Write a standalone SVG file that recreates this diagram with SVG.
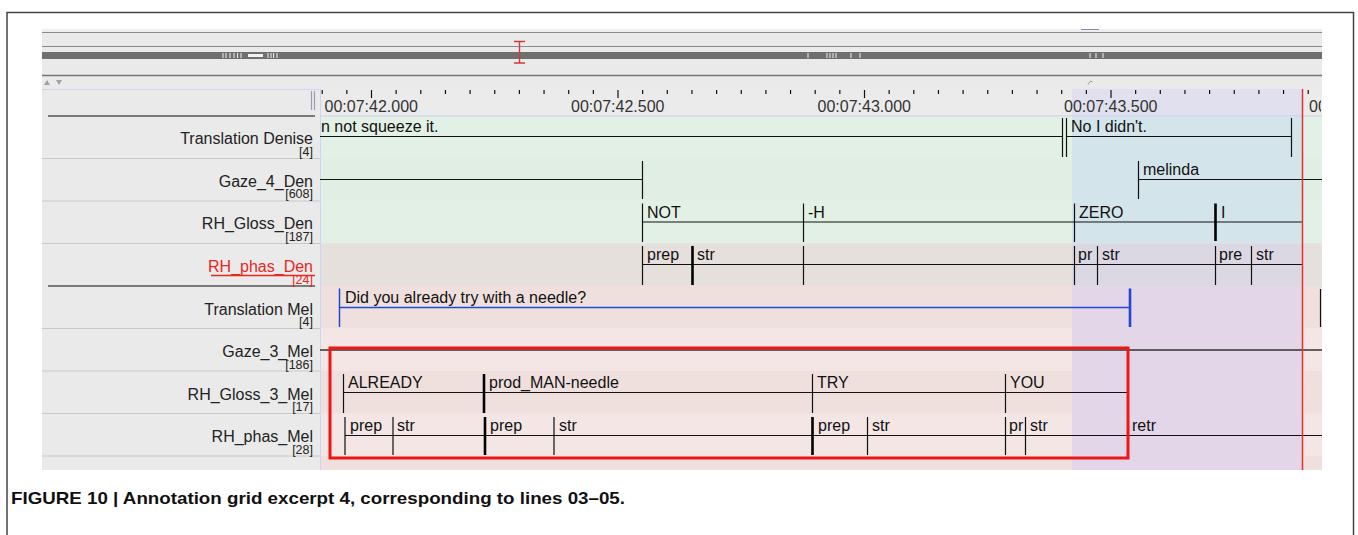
<svg xmlns="http://www.w3.org/2000/svg" width="1358" height="535" viewBox="0 0 1358 535">
<defs>
<style>
text{font-family:"Liberation Sans",Arial,Helvetica,sans-serif}
.lbl{font-size:16px;fill:#222;text-anchor:end}
.cnt{font-size:12.5px;fill:#222;text-anchor:end}
.ann{font-size:16px;fill:#111}
.ruler{font-size:16px;fill:#333}
.tk{stroke:#111;stroke-width:1.2;fill:none}
.tkb{stroke:#000;stroke-width:2.6;fill:none}
.blue{stroke:#2346d8;fill:none}
.sep{stroke:#c9c9c9;stroke-width:1.2}
.sepd{stroke:#555;stroke-width:1.6}
</style>
<clipPath id="clipRight"><rect x="320" y="85" width="1001" height="390"/></clipPath>
</defs>
<rect x="0" y="0" width="1358" height="535" fill="#fff"/>
<path d="M7 535V12.5H1353.5V535" fill="none" stroke="#444" stroke-width="1.5"/>

<g id="app-top">
<rect x="42" y="29" width="1280" height="441" fill="#eaeaea"/>
<rect x="42" y="29" width="1280" height="3" fill="#eeeeee"/>
<line x1="42" y1="32.5" x2="1322" y2="32.5" stroke="#8a8a8a" stroke-width="1"/>
<line x1="42" y1="46.5" x2="1322" y2="46.5" stroke="#8a8a8a" stroke-width="1"/>
<rect x="42" y="52" width="1280" height="7" fill="#6f6f6f"/>
<path d="M223 53v5M226 53v5M230 53v5M234 53v5M237.5 53v5M241 53v5M268 53v5M271 53v5M273.6 53v5M277 53v5M808 53v5M827 53v5M830 53v5M833 53v5M836 53v5M851 53v5M860 53v5M1090 53v5M1096 53v5M1103 53v5" stroke="#f2f2f2" stroke-width="1"/>
<rect x="248" y="54" width="15" height="3" fill="#f2f2f2"/>
<line x1="42" y1="75.5" x2="1322" y2="75.5" stroke="#777" stroke-width="1.6"/>
<line x1="1081" y1="29.5" x2="1099" y2="29.5" stroke="#8a8ab0" stroke-width="1"/>
<path d="M519.5 41V63M514 41.5H525M514 63H525" stroke="#d43a3a" stroke-width="1.4" fill="none"/>
<path d="M44 85L47 80L50 85Z" fill="#a0a0a0"/>
<path d="M56 80L62 80L59 85Z" fill="#a0a0a0"/>
<path d="M1088 84.5L1090.5 81L1092.5 82" stroke="#999" stroke-width="1" fill="none"/>
</g>

<g id="data-background">
<rect x="320" y="89" width="1002" height="27" fill="#ebebeb"/>
<rect x="320" y="116" width="1002" height="42.5" fill="#e3f0e5"/>
<rect x="320" y="158.5" width="1002" height="42.5" fill="#e1eee3"/>
<rect x="320" y="201" width="1002" height="42.5" fill="#e3f0e5"/>
<rect x="320" y="243.5" width="1002" height="42.5" fill="#e6e0dd"/>
<rect x="320" y="286" width="1002" height="42.5" fill="#efe0de"/>
<rect x="320" y="328.5" width="1002" height="42.5" fill="#f3e6e4"/>
<rect x="320" y="371" width="1002" height="42.5" fill="#efe0de"/>
<rect x="320" y="413.5" width="1002" height="42.5" fill="#f3e6e4"/>
<rect x="320" y="456" width="1002" height="14" fill="#efe0de"/>
<rect x="1072" y="89" width="230.5" height="27" fill="#e0e0ef"/>
<rect x="1072" y="116" width="230.5" height="127.5" fill="#d3e4ea"/>
<rect x="1072" y="243.5" width="230.5" height="42.5" fill="#dcd8e3"/>
<rect x="1072" y="286" width="230.5" height="184" fill="#e3d6e8"/>
<line x1="320" y1="116" x2="1322" y2="116" stroke="#c9d0f2" stroke-width="1.2"/>
<line x1="320.5" y1="89" x2="320.5" y2="470" stroke="#cdd4f4" stroke-width="1"/>
<line x1="42" y1="89.5" x2="320" y2="89.5" stroke="#cdd4f4" stroke-width="1.2"/>
</g>

<g id="ruler">
<path class="tk" d="M322.2 90v4M346.85 90v4M396.15 90v4M420.8 90v4M445.45 90v4M470.1 90v4M494.75 90v4M519.4 90v4M544.05 90v4M568.7 90v4M593.35 90v4M642.65 90v4M667.3 90v4M691.95 90v4M716.6 90v4M741.25 90v4M765.9 90v4M790.55 90v4M815.2 90v4M839.85 90v4M889.15 90v4M913.8 90v4M938.45 90v4M963.1 90v4M987.75 90v4M1012.4 90v4M1037.05 90v4M1061.7 90v4M1086.35 90v4M1135.65 90v4M1160.3 90v4M1184.95 90v4M1209.6 90v4M1234.25 90v4M1258.9 90v4M1283.55 90v4M1308.2 90v4"/>
<path class="tk" d="M371.5 90v8M618 90v8M864.5 90v8M1111 90v8"/>
<text class="ruler" x="324.5" y="112">00:07:42.000</text>
<text class="ruler" x="571" y="112">00:07:42.500</text>
<text class="ruler" x="817.5" y="112">00:07:43.000</text>
<text class="ruler" x="1064" y="112">00:07:43.500</text>
<text class="ruler" x="1309" y="112" clip-path="url(#clipRight)">00</text>
<path d="M311.5 91V110M314.5 91V110" stroke="#9a9ab4" stroke-width="1.2"/>
</g>

<g id="tier-labels">
<line class="sepd" x1="48" y1="116" x2="315" y2="116"/>
<line class="sep" x1="42" y1="158.5" x2="320" y2="158.5"/>
<line class="sep" x1="42" y1="201" x2="320" y2="201"/>
<line class="sep" x1="42" y1="243.5" x2="320" y2="243.5"/>
<line class="sepd" x1="48" y1="286" x2="315" y2="286"/>
<line class="sep" x1="42" y1="328.5" x2="320" y2="328.5"/>
<line class="sep" x1="42" y1="371" x2="320" y2="371"/>
<line class="sep" x1="42" y1="413.5" x2="320" y2="413.5"/>
<line class="sep" x1="42" y1="456" x2="320" y2="456"/>
<g id="label-translation-denise"><text class="lbl" x="313" y="144">Translation Denise</text><text class="cnt" x="313" y="155.5">[4]</text></g>
<g id="label-gaze-4-den"><text class="lbl" x="313" y="186.5">Gaze_4_Den</text><text class="cnt" x="313" y="198">[608]</text></g>
<g id="label-rh-gloss-den"><text class="lbl" x="313" y="229">RH_Gloss_Den</text><text class="cnt" x="313" y="240.5">[187]</text></g>
<g id="label-rh-phas-den"><text class="lbl" x="313" y="271.5" style="fill:#e8271f">RH_phas_Den</text><line x1="211" y1="275.5" x2="315" y2="275.5" stroke="#e8271f" stroke-width="1.5"/><text class="cnt" x="313" y="284" style="fill:#e8271f">[24]</text></g>
<g id="label-translation-mel"><text class="lbl" x="313" y="314.5">Translation Mel</text><text class="cnt" x="313" y="326">[4]</text></g>
<g id="label-gaze-3-mel"><text class="lbl" x="313" y="357">Gaze_3_Mel</text><text class="cnt" x="313" y="368.5">[186]</text></g>
<g id="label-rh-gloss-3-mel"><text class="lbl" x="313" y="399.5">RH_Gloss_3_Mel</text><text class="cnt" x="313" y="411">[17]</text></g>
<g id="label-rh-phas-mel"><text class="lbl" x="313" y="442">RH_phas_Mel</text><text class="cnt" x="313" y="453.5">[28]</text></g>
</g>

<g id="tier-translation-denise">
<text class="ann" x="321" y="132">n not squeeze it.</text>
<path class="tk" d="M320 136.5H1062.5M1062.5 118V157M1066.5 118V157M1066.5 136.5H1291.5M1291.5 118V157"/>
<text class="ann" x="1071" y="132">No I didn't.</text>
</g>

<g id="tier-gaze-4-den">
<path class="tk" d="M320 179.5H642.5M642.5 161V199M1138.5 161V199M1138.5 179.5H1322"/>
<text class="ann" x="1143" y="175">melinda</text>
</g>

<g id="tier-rh-gloss-den">
<path class="tk" d="M642.5 222H1302.5M642.5 203.5V242M803.5 203.5V242M1074.5 203.5V242"/>
<path class="tkb" d="M1215.5 203.5V241"/>
<text class="ann" x="647" y="218">NOT</text>
<text class="ann" x="808" y="218">-H</text>
<text class="ann" x="1079" y="218">ZERO</text>
<text class="ann" x="1221" y="218">I</text>
</g>

<g id="tier-rh-phas-den">
<path class="tk" d="M642.5 264.5H1302.5M642.5 246V285M803.5 246V285M1074.5 246V285M1097.5 246V285M1215.5 246V285M1251.5 246V285"/>
<path class="tkb" d="M692.5 246V285"/>
<text class="ann" x="647" y="260">prep</text>
<text class="ann" x="697" y="260">str</text>
<text class="ann" x="1078" y="260">pr</text>
<text class="ann" x="1102" y="260">str</text>
<text class="ann" x="1219" y="260">pre</text>
<text class="ann" x="1256" y="260">str</text>
</g>

<g id="tier-translation-mel">
<path class="blue" stroke-width="1.5" d="M339.5 288.5V327M339.5 307.5H1130"/>
<path class="blue" stroke-width="2.6" d="M1130 288.5V327"/>
<text class="ann" x="345" y="303">Did you already try with a needle?</text>
<path class="tk" d="M1320.5 289V327"/>
</g>

<g id="tier-gaze-3-mel">
<line x1="320" y1="350" x2="1322" y2="350" stroke="#333" stroke-width="1.6"/>
</g>

<g id="tier-rh-gloss-3-mel">
<path class="tk" d="M343.5 392.5H1127M343.5 374V413M812.5 374V413M1005.5 374V413"/>
<path class="tkb" d="M484 374V413"/>
<text class="ann" x="348" y="388">ALREADY</text>
<text class="ann" x="489" y="388">prod_MAN-needle</text>
<text class="ann" x="817" y="388">TRY</text>
<text class="ann" x="1010" y="388">YOU</text>
</g>

<g id="tier-rh-phas-mel">
<path class="tk" d="M345 435.5H1322M345 417V455M393 417V455M554 417V455M867.5 417V455M1005.5 417V455M1025.5 417V455"/>
<path class="tkb" d="M485 417V455M812.5 417V455"/>
<text class="ann" x="350" y="431">prep</text>
<text class="ann" x="397" y="431">str</text>
<text class="ann" x="490" y="431">prep</text>
<text class="ann" x="559" y="431">str</text>
<text class="ann" x="818" y="431">prep</text>
<text class="ann" x="872" y="431">str</text>
<text class="ann" x="1009" y="431">pr</text>
<text class="ann" x="1030" y="431">str</text>
<text class="ann" x="1132" y="431">retr</text>
</g>

<g id="connectors">
<line x1="1302.5" y1="89" x2="1302.5" y2="470" stroke="#e8332a" stroke-width="1.5"/>
<rect x="330" y="348" width="798" height="110" fill="none" stroke="#ee1515" stroke-width="3"/>
</g>

<g id="caption">
<text x="11" y="504" font-size="17" font-weight="bold" fill="#111" textLength="614" lengthAdjust="spacingAndGlyphs">FIGURE 10 | Annotation grid excerpt 4, corresponding to lines 03–05.</text>
</g>
</svg>
